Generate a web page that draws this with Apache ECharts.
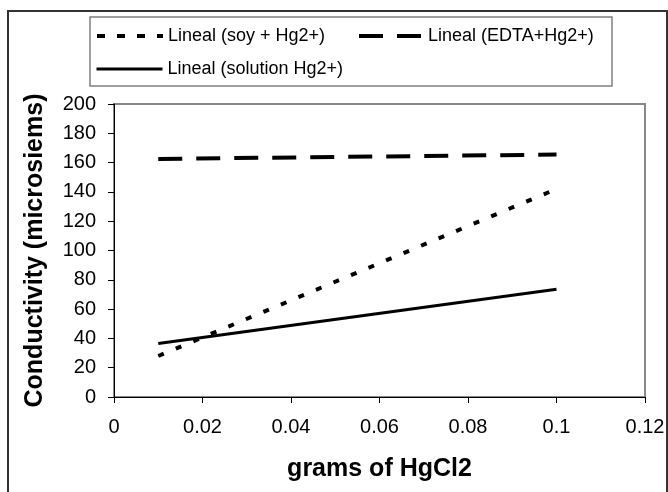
<!DOCTYPE html>
<html>
<head>
<meta charset="utf-8">
<script src="https://cdn.jsdelivr.net/npm/echarts@6/dist/echarts.min.js"></script>
<style>
html,body{margin:0;padding:0;background:#fff;}
#chart{width:668px;height:492px;}
</style>
</head>
<body>
<div id="chart"></div>
<script>
// Data
const xValues = [0.01, 0.1];
const soyValues = [28, 142];
const edtaValues = [162.5, 165.5];
const solutionValues = [36.5, 73.5];
const seriesNames = ['Lineal (soy + Hg2+)', 'Lineal (EDTA+Hg2+)', 'Lineal (solution Hg2+)'];
const xTitle = 'grams of HgCl2';
const yTitle = 'Conductivity (microsiems)';

const FONT = 'Liberation Sans, Arial, sans-serif';
const pairs = (vals) => xValues.map((x, i) => [x, vals[i]]);

const dotted = [6, 13];
const dashed = [24, 14];

const legendBase = {
  padding: 0,
  itemWidth: 66,
  itemHeight: 14,
  itemStyle: { opacity: 0 },
  textStyle: { fontSize: 18, color: '#000', fontFamily: FONT },
  selectedMode: false
};

const chart = echarts.init(document.getElementById('chart'), null, { renderer: 'canvas' });
chart.setOption({
  animation: false,
  backgroundColor: '#fff',
  graphic: [
    { type: 'rect', z: -10, shape: { x: 8, y: 11, width: 659, height: 520 },
      style: { fill: null, stroke: '#333', lineWidth: 2 } },
    { type: 'rect', z: -10, shape: { x: 90, y: 17, width: 522, height: 69 },
      style: { fill: '#fff', stroke: '#808080', lineWidth: 1.5 } }
  ],
  legend: [
    Object.assign({}, legendBase, { left: 95, top: 27, data: [seriesNames[0]],
      lineStyle: { width: 4, type: [8, 12], color: '#000' } }),
    Object.assign({}, legendBase, { left: 357, top: 27, itemWidth: 64, data: [seriesNames[1]],
      lineStyle: { width: 4, type: dashed, color: '#000' } }),
    Object.assign({}, legendBase, { left: 95, top: 60, data: [seriesNames[2]],
      lineStyle: { width: 3, type: 'solid', color: '#000' } })
  ],
  grid: {
    left: 114, right: 23, top: 104, bottom: 95,
    show: true, borderColor: '#888', borderWidth: 2,
    outerBoundsMode: 'none'
  },
  xAxis: {
    type: 'value', min: 0, max: 0.12, interval: 0.02,
    splitLine: { show: false },
    axisLine: { lineStyle: { color: '#000', width: 1 } },
    axisTick: { show: true, length: 6, lineStyle: { color: '#000' } },
    axisLabel: { fontSize: 20, color: '#000', fontFamily: FONT, margin: 20 },
    name: xTitle, nameLocation: 'middle', nameGap: 60,
    nameTextStyle: { fontSize: 25, fontWeight: 'bold', color: '#000', fontFamily: FONT }
  },
  yAxis: {
    type: 'value', min: 0, max: 200, interval: 20,
    splitLine: { show: false },
    axisLine: { show: true, lineStyle: { color: '#000', width: 1 } },
    axisTick: { show: true, length: 6, lineStyle: { color: '#000' } },
    axisLabel: { fontSize: 20, color: '#000', fontFamily: FONT, margin: 18 },
    name: yTitle, nameLocation: 'middle', nameGap: 66,
    nameTextStyle: { fontSize: 25, fontWeight: 'bold', color: '#000', fontFamily: FONT }
  },
  series: [
    { name: seriesNames[0], type: 'line', symbol: 'none', data: pairs(soyValues),
      lineStyle: { color: '#000', width: 4, type: dotted }, itemStyle: { color: '#000' } },
    { name: seriesNames[1], type: 'line', symbol: 'none', data: pairs(edtaValues),
      lineStyle: { color: '#000', width: 4, type: dashed }, itemStyle: { color: '#000' } },
    { name: seriesNames[2], type: 'line', symbol: 'none', data: pairs(solutionValues),
      lineStyle: { color: '#000', width: 3, type: 'solid' }, itemStyle: { color: '#000' } }
  ]
});
</script>
</body>
</html>
